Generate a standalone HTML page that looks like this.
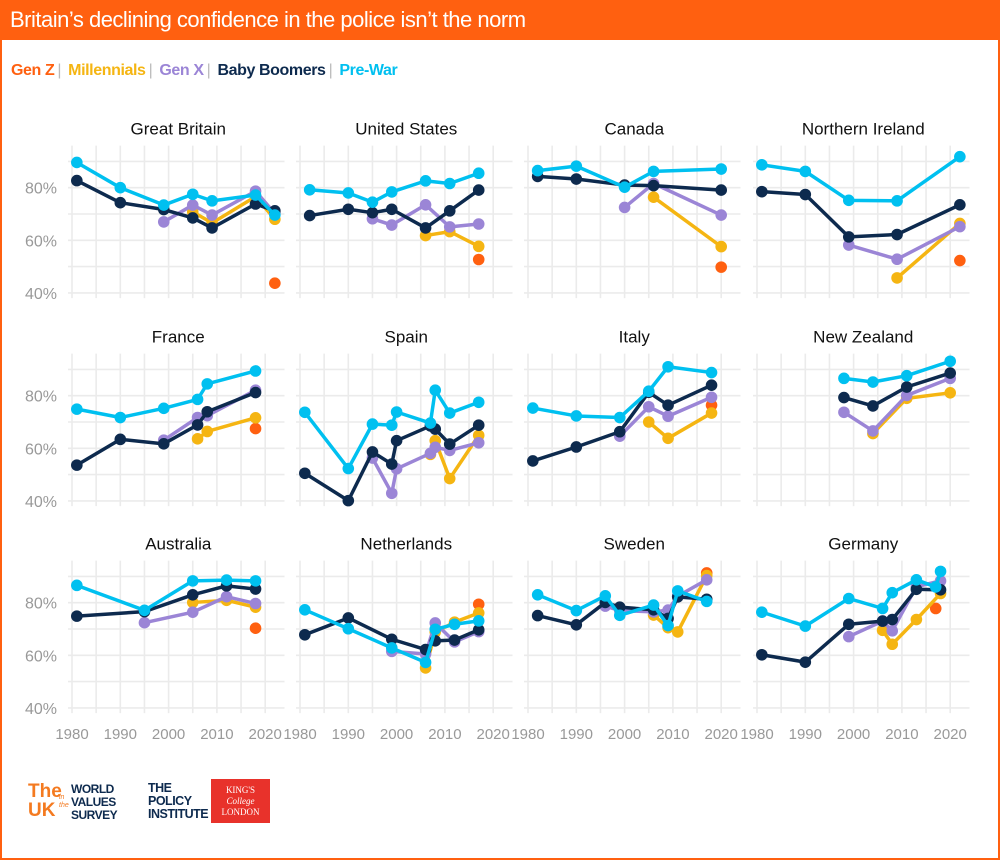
<!DOCTYPE html>
<html><head><meta charset="utf-8">
<style>
html,body{margin:0;padding:0;background:#fff;}
#wrap{position:relative;width:1000px;height:860px;overflow:hidden;font-family:"Liberation Sans",sans-serif;}
#frame{position:absolute;left:0;top:0;width:996px;height:856px;border:2px solid #ff6010;}
#hdr{position:absolute;left:0;top:0;width:1000px;height:40px;background:#ff6010;color:#fff;font-size:22px;line-height:40px;padding-left:10px;box-sizing:border-box;letter-spacing:-0.5px;}
#legend{position:absolute;left:11px;top:62px;font-size:16px;font-weight:bold;letter-spacing:-0.4px;}
#legend span{margin-right:3px}
.sep{color:#bbb;font-weight:normal}
svg{position:absolute;left:0;top:0}
</style></head><body>
<div id="wrap">
<div id="frame"></div>
<div id="hdr">Britain’s declining confidence in the police isn’t the norm</div>
<div id="legend">
<span style="color:#ff6010">Gen Z</span><span class="sep">|</span>
<span style="color:#f5b512">Millennials</span><span class="sep">|</span>
<span style="color:#9b85d6">Gen X</span><span class="sep">|</span>
<span style="color:#0d2a4e">Baby Boomers</span><span class="sep">|</span>
<span style="color:#00c0f0">Pre-War</span>
</div>
<svg id="chart" width="1000" height="860"></svg>
<div style="position:absolute;left:28px;top:782px;width:90px;height:40px;">
 <div style="position:absolute;left:0;top:0;color:#f47a20;font-weight:bold;font-size:19px;line-height:19px;">The<br>UK</div>
 <div style="position:absolute;left:31px;top:12px;color:#f47a20;font-style:italic;font-size:7px;line-height:8px;">in<br>the</div>
 <div style="position:absolute;left:43px;top:1px;color:#0d2a4e;font-weight:bold;font-size:12px;line-height:13px;letter-spacing:-0.5px;">WORLD<br>VALUES<br>SURVEY</div>
</div>
<div style="position:absolute;left:148px;top:782px;color:#0d2a4e;font-weight:bold;font-size:12.5px;line-height:13px;letter-spacing:-0.5px;">THE<br>POLICY<br>INSTITUTE</div>
<div style="position:absolute;left:211px;top:779px;width:59px;height:44px;background:#e8322b;color:#fff;font-family:'Liberation Serif',serif;text-align:center;font-size:9px;line-height:11px;padding-top:6px;box-sizing:border-box;">KING'S<br><i>College</i><br>LONDON</div>
</div>
<script>
const countries = ["Great Britain","United States","Canada","Northern Ireland","France","Spain","Italy","New Zealand","Australia","Netherlands","Sweden","Germany"];
const seriesNames = ["genz","millennials","genx","boomers","prewar"];
const seriesColors = {genz:"#ff6010",millennials:"#f5b512",genx:"#9b85d6",boomers:"#0d2a4e",prewar:"#00c0f0"};
const yTicks = [40,60,80];
const xTicks = [1980,1990,2000,2010,2020];
const dGB = {
 prewar:[[1981,89.6],[1990,80],[1999,73.4],[2005,77.5],[2009,75],[2018,77.2],[2022,69.6]],
 boomers:[[1981,82.7],[1990,74.3],[1999,71.7],[2005,68.5],[2009,64.7],[2018,73.8],[2022,71.2]],
 genx:[[1999,67],[2005,73.4],[2009,69.6],[2018,78.7],[2022,70.2]],
 millennials:[[2005,70.8],[2009,66.6],[2018,76.6],[2022,68]],
 genz:[[2022,43.7]]};
const dUS = {
 prewar:[[1982,79.2],[1990,78],[1995,74.5],[1999,78.4],[2006,82.6],[2011,81.6],[2017,85.5]],
 boomers:[[1982,69.4],[1990,71.8],[1995,70.5],[1999,71.8],[2006,64.7],[2011,71.2],[2017,79.1]],
 genx:[[1995,68.2],[1999,65.8],[2006,73.5],[2011,65.1],[2017,66.2]],
 millennials:[[2006,61.8],[2011,63.3],[2017,57.7]],
 genz:[[2017,52.7]]};
const dCA = {
 prewar:[[1982,86.5],[1990,88.2],[2000,80.2],[2006,86.2],[2020,87.1]],
 boomers:[[1982,84.3],[1990,83.3],[2000,81],[2006,80.8],[2020,79.1]],
 genx:[[2000,72.5],[2006,81.6],[2020,69.6]],
 millennials:[[2006,76.4],[2020,57.6]],
 genz:[[2020,49.8]]};
const dNI = {
 prewar:[[1981,88.7],[1990,86.2],[1999,75.2],[2009,75],[2022,91.8]],
 boomers:[[1981,78.5],[1990,77.4],[1999,61.3],[2009,62.2],[2022,73.5]],
 genx:[[1999,58.2],[2009,52.8],[2022,65.2]],
 millennials:[[2009,45.7],[2022,66.4]],
 genz:[[2022,52.3]]};
const dFR = {
 prewar:[[1981,74.9],[1990,71.7],[1999,75.2],[2006,78.6],[2008,84.5],[2018,89.4]],
 boomers:[[1981,53.6],[1990,63.4],[1999,61.7],[2006,68.9],[2008,73.9],[2018,81.2]],
 genx:[[1999,63.1],[2006,71.7],[2008,72.4],[2018,82.1]],
 millennials:[[2006,63.6],[2008,66.4],[2018,71.6]],
 genz:[[2018,67.5]]};
const dES = {
 prewar:[[1981,73.7],[1990,52.3],[1995,69.2],[1999,68.8],[2000,73.8],[2007,69.6],[2008,82.1],[2011,73.4],[2017,77.5]],
 boomers:[[1981,50.5],[1990,40.1],[1995,58.6],[1999,54],[2000,62.9],[2007,68.5],[2008,67.3],[2011,61.6],[2017,68.8]],
 genx:[[1995,56.3],[1999,42.9],[2000,52.2],[2007,58.1],[2008,60.4],[2011,59.2],[2017,62.1]],
 millennials:[[2007,57.7],[2008,62.9],[2011,48.5],[2017,64.9]],
 genz:[]};
const dIT = {
 prewar:[[1981,75.3],[1990,72.3],[1999,71.7],[2005,81.7],[2009,91],[2018,88.8]],
 boomers:[[1981,55.2],[1990,60.5],[1999,66.3],[2005,81.3],[2009,76.4],[2018,84]],
 genx:[[1999,64.6],[2005,75.8],[2009,72.2],[2018,79.4]],
 millennials:[[2005,70],[2009,63.8],[2018,73.4]],
 genz:[[2018,76.4]]};
const dNZ = {
 prewar:[[1998,86.6],[2004,85.2],[2011,87.6],[2020,93.1]],
 boomers:[[1998,79.3],[2004,76.1],[2011,83.3],[2020,88.6]],
 genx:[[1998,73.7],[2004,66.6],[2011,80.1],[2020,86.6]],
 millennials:[[2004,65.6],[2011,79],[2020,81.1]],
 genz:[]};
const dAU = {
 prewar:[[1981,86.6],[1995,77.1],[2005,88.3],[2012,88.6],[2018,88.3]],
 boomers:[[1981,74.9],[1995,76.6],[2005,83],[2012,86.4],[2018,85.2]],
 genx:[[1995,72.4],[2005,76.4],[2012,82.3],[2018,79.7]],
 millennials:[[2005,80.1],[2012,80.9],[2018,78.3]],
 genz:[[2018,70.3]]};
const dNL = {
 prewar:[[1981,77.3],[1990,70.1],[1999,62.8],[2006,57.3],[2008,69.9],[2012,71.8],[2017,73.1]],
 boomers:[[1981,67.8],[1990,74.2],[1999,66.1],[2006,62.2],[2008,65.5],[2012,65.8],[2017,69.7]],
 genx:[[1999,61.5],[2006,60.5],[2008,72.3],[2012,65.1],[2017,69]],
 millennials:[[2006,55.2],[2008,68.8],[2012,72.6],[2017,76.1]],
 genz:[[2017,79.4]]};
const dSE = {
 prewar:[[1982,83],[1990,77],[1996,82.6],[1999,75.2],[2006,79.1],[2009,71.3],[2011,84.5],[2017,80.5]],
 boomers:[[1982,75.1],[1990,71.6],[1996,80.1],[1999,78.3],[2006,77.3],[2009,74],[2011,82.2],[2017,81.3]],
 genx:[[1996,78.7],[1999,77],[2006,76.5],[2009,77.2],[2011,82.5],[2017,88.7]],
 millennials:[[2006,75.3],[2009,70.5],[2011,68.9],[2017,90.3]],
 genz:[[2017,91.3]]};
const dDE = {
 prewar:[[1981,76.4],[1990,71.1],[1999,81.6],[2006,77.8],[2008,83.8],[2013,88.7],[2017,86],[2018,91.9]],
 boomers:[[1981,60.2],[1990,57.4],[1999,71.8],[2006,73],[2008,73.6],[2013,85.1],[2018,84.9]],
 genx:[[1999,67.1],[2006,73],[2008,69.3],[2013,86.1],[2018,88.3]],
 millennials:[[2006,69.5],[2008,64.2],[2013,73.6],[2018,83.5]],
 genz:[[2017,77.8]]};
const panelData = [dGB,dUS,dCA,dNI,dFR,dES,dIT,dNZ,dAU,dNL,dSE,dDE];

const NS="http://www.w3.org/2000/svg";
const svg=document.getElementById("chart");
const colX=[72,300,528,757], rowY80=[187.7,395.7,602.7];
const pxYear=4.83, pxPct=2.63;
function mk(tag,attrs,parent){const e=document.createElementNS(NS,tag);for(const k in attrs)e.setAttribute(k,attrs[k]);(parent||svg).appendChild(e);return e;}
countries.forEach((c,i)=>{
 const col=i%4,row=Math.floor(i/4);
 const xs=y=>colX[col]+(y-1980)*pxYear;
 const ys=v=>rowY80[row]-(v-80)*pxPct;
 const g=mk("g",{});
 
 
 const top=ys(96), bot=ys(38);
 for(let yr=1980;yr<=2020;yr+=5){const l=mk("line",{x1:xs(yr),x2:xs(yr),y1:top,y2:bot,stroke:"#ebebeb","stroke-width":1.6},g);
  
  }
 for(let v=40;v<=90;v+=10){const l=mk("line",{x1:xs(1980)-4,x2:xs(2024),y1:ys(v),y2:ys(v),stroke:"#ebebeb","stroke-width":1.6},g);
  
  }
 const t=mk("text",{x:xs(2002),y:rowY80[row]-53,"text-anchor":"middle","font-size":17,fill:"#111","font-family":"Liberation Sans, sans-serif"},g);
 t.textContent=c;
 
 
 if(col===0){yTicks.forEach(v=>{const tt=mk("text",{x:57,y:ys(v)+6,"text-anchor":"end","font-size":16,fill:"#999","font-family":"Liberation Sans, sans-serif"},g);
  tt.textContent=v+"%";
  
  });}
 if(row===2){xTicks.forEach(yr=>{const tt=mk("text",{x:xs(yr),y:739,"text-anchor":"middle","font-size":15,fill:"#999","font-family":"Liberation Sans, sans-serif"},g);
  tt.textContent=yr;
  
  });}
 const d=panelData[i];
 seriesNames.forEach(s=>{
  const pts=d[s]||[];
  if(pts.length>1){const p=mk("polyline",{points:pts.map(q=>xs(q[0])+","+ys(q[1])).join(" "),fill:"none",stroke:seriesColors[s],"stroke-width":3.5,"stroke-linejoin":"round"},g);
   
   }
  pts.forEach(q=>{const ci=mk("circle",{cx:xs(q[0]),cy:ys(q[1]),r:5.8,fill:seriesColors[s]},g);
   
   });
 });
});
</script>
</body></html>
